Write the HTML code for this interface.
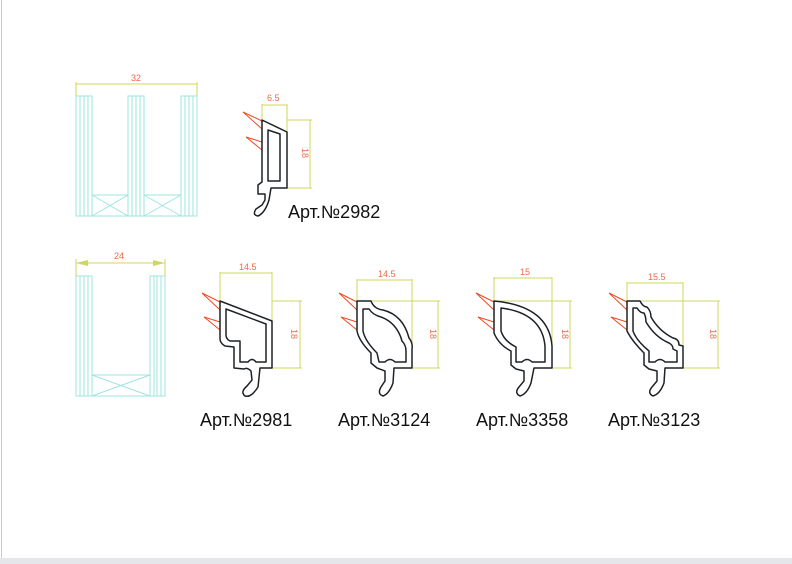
<!DOCTYPE html>
<html><head><meta charset="utf-8"><style>
html,body{margin:0;padding:0;background:#fff;}
svg{display:block;}
.g{stroke:#9ee5e0;stroke-width:1;fill:none;}
.d{stroke:#cfd85a;stroke-width:1;fill:none;}
.p{stroke:#1e2226;stroke-width:1.5;fill:#fff;stroke-linejoin:round;}
.f{stroke:#ef4a23;stroke-width:1;fill:none;}
.t{font-family:"Liberation Sans",sans-serif;font-size:9px;fill:#ee6a4e;}
.l{font-family:"Liberation Sans",sans-serif;font-size:18px;fill:#111;}
</style></head><body>
<svg width="792" height="564" viewBox="0 0 792 564">
<line x1="1.5" y1="0" x2="1.5" y2="558" stroke="#ccc"/>
<rect x="0" y="558" width="792" height="6" fill="#e4e6ea"/>
<!-- top glass -->
<g class="g">
<rect x="76" y="96" width="16" height="120"/><line x1="80" y1="96" x2="80" y2="216"/><line x1="84" y1="96" x2="84" y2="216"/><line x1="88" y1="96" x2="88" y2="216"/>
<rect x="128" y="96" width="16" height="120"/><line x1="132" y1="96" x2="132" y2="216"/><line x1="136" y1="96" x2="136" y2="216"/><line x1="140" y1="96" x2="140" y2="216"/>
<rect x="181" y="96" width="16" height="120"/><line x1="185" y1="96" x2="185" y2="216"/><line x1="189" y1="96" x2="189" y2="216"/><line x1="193" y1="96" x2="193" y2="216"/>
<rect x="92" y="195" width="36" height="21"/><line x1="92" y1="195" x2="128" y2="216"/><line x1="128" y1="195" x2="92" y2="216"/>
<rect x="144" y="195" width="37" height="21"/><line x1="144" y1="195" x2="181" y2="216"/><line x1="181" y1="195" x2="144" y2="216"/>
</g>
<g class="d"><line x1="76" y1="84" x2="197" y2="84"/><line x1="76" y1="82" x2="76" y2="96"/><line x1="197" y1="82" x2="197" y2="96"/></g>
<text class="t" x="131" y="81">32</text>
<!-- bottom glass -->
<g class="g">
<rect x="76" y="276" width="16" height="120"/><line x1="80" y1="276" x2="80" y2="396"/><line x1="84" y1="276" x2="84" y2="396"/><line x1="88" y1="276" x2="88" y2="396"/>
<rect x="150" y="276" width="15" height="120"/><line x1="154" y1="276" x2="154" y2="396"/><line x1="157" y1="276" x2="157" y2="396"/><line x1="161" y1="276" x2="161" y2="396"/>
<rect x="92" y="375" width="58" height="21"/><line x1="92" y1="375" x2="150" y2="396"/><line x1="150" y1="375" x2="92" y2="396"/>
</g>
<g class="d"><line x1="76" y1="263" x2="165" y2="263"/><line x1="76" y1="259" x2="76" y2="276"/><line x1="165" y1="259" x2="165" y2="276"/></g>
<polygon points="76,263 88,260 88,266" fill="#cfd85a"/><polygon points="165,263 153,260 153,266" fill="#cfd85a"/>
<text class="t" x="114" y="259">24</text>

<!-- 2982 -->
<g transform="translate(262,120)">
<path class="f" d="M0,1 L-19,-8 L0,9 M0,22 L-16,17 L0,30"/>
<path class="d" d="M0,0 V-16 M25,12 V-16 M0,-15 H25 M25,0 H50 M25,68 H50 M48,0 V68"/>
<path class="p" d="M0,0 L25,12 L25,68 L9,68 L7,80 Q3,93 -4,96 Q-10,95 -6,89 L0,85 L3,80 L3,74 L-4,74 L-4,65 L0,62 Z"/>
<path class="p" d="M6,10 L18,14 L18,61 L6,61 Z"/>
<text class="t" x="5" y="-19">6.5</text>
<text class="t" transform="translate(40,28) rotate(90)">18</text>
</g>
<text class="l" x="288" y="218">Арт.№2982</text>

<!-- 2981 -->
<g transform="translate(220,301)">
<path class="f" d="M0,1 L-18,-8 L0,9 M0,21 L-16,16 L0,29"/>
<path class="d" d="M0,0 V-29 M52,20 V-29 M0,-28 H52 M52,0 H82 M52,67 H82 M80,0 V67"/>
<path class="p" d="M0,0 L52,20 L52,67 L40,67 L38,86 Q31,97 25,95 Q20,91 27,85 L32,79 L31,70 Q27,66 24,68 L14,67 L14,46 L5,45 Q0,42 0,38 Z"/>
<path class="p" d="M6,8 L46,23 L46,61 L36,61 Q32,56 28,61 L20,61 L20,40 L10,40 Q6,38 6,34 Z"/>
<text class="t" x="19" y="-31">14.5</text>
<text class="t" transform="translate(71,28) rotate(90)">18</text>
</g>
<text class="l" x="200" y="426">Арт.№2981</text>

<!-- 3124 -->
<g transform="translate(357,301)">
<path class="f" d="M0,1 L-18,-8 L0,9 M0,21 L-16,16 L0,29"/>
<path class="d" d="M0,0 V-22 M55,-22 V67 M0,-21 H55 M0,0 H83 M55,67 H83 M81,0 V67"/>
<path class="p" d="M0,0 L14,0 Q17,8 26,9 Q46,14 52,37 Q56,42 55,48 L55,67 L37,67 L36,82 Q32,93 26,95 Q20,93 24,86 L28,80 L28,70 L20,67 L14,62 L14,52 Q2,40 0,30 Z"/>
<path class="p" d="M6,8 L12,8 Q16,14 24,16 Q40,22 45,40 Q49,44 49,50 L49,61 L38,61 Q33,56 28,61 L22,61 L20,52 Q8,40 6,30 Z"/>
<text class="t" x="21" y="-24">14.5</text>
<text class="t" transform="translate(73,28) rotate(90)">18</text>
</g>
<text class="l" x="338" y="426">Арт.№3124</text>

<!-- 3358 -->
<g transform="translate(494,301)">
<path class="f" d="M0,1 L-18,-8 L0,9 M0,21 L-16,16 L0,29"/>
<path class="d" d="M0,0 V-24 M58,-24 V67 M0,-23 H58 M0,0 H78 M58,67 H78 M76,0 V67"/>
<path class="p" d="M0,0 Q55,5 58,45 L58,67 L40,67 L37,82 Q33,93 26,95 Q20,92 25,86 L30,80 L30,70 L22,68 L17,64 L17,50 Q5,44 0,32 Z"/>
<path class="p" d="M7,7 Q48,12 51,45 L51,61 L38,61 Q33,56 28,61 L22,61 L22,46 Q10,40 7,30 Z"/>
<text class="t" x="26" y="-26">15</text>
<text class="t" transform="translate(68,28) rotate(90)">18</text>
</g>
<text class="l" x="476" y="426">Арт.№3358</text>

<!-- 3123 -->
<g transform="translate(627,301)">
<path class="f" d="M0,1 L-18,-8 L0,9 M0,21 L-16,16 L0,29"/>
<path class="d" d="M0,0 V-19 M56,-19 V67 M0,-18 H56 M0,0 H93 M56,67 H93 M91,0 V67"/>
<path class="p" d="M0,0 L13,0 Q16,6 20,6 Q24,10 24,16 Q32,30 46,37 Q52,38 52,44 L56,45 L56,67 L38,67 L37,82 Q33,93 26,95 Q20,92 25,86 L30,80 L30,70 L22,68 L17,64 L17,52 Q5,40 0,30 Z"/>
<path class="p" d="M6,7 L10,7 Q13,12 17,12 Q19,16 19,21 Q28,36 42,42 Q46,44 46,48 L50,50 L50,61 L38,61 Q33,56 28,61 L22,61 L22,50 Q9,39 6,30 Z"/>
<text class="t" x="21" y="-21">15.5</text>
<text class="t" transform="translate(83,28) rotate(90)">18</text>
</g>
<text class="l" x="608" y="426">Арт.№3123</text>
</svg>
</body></html>
